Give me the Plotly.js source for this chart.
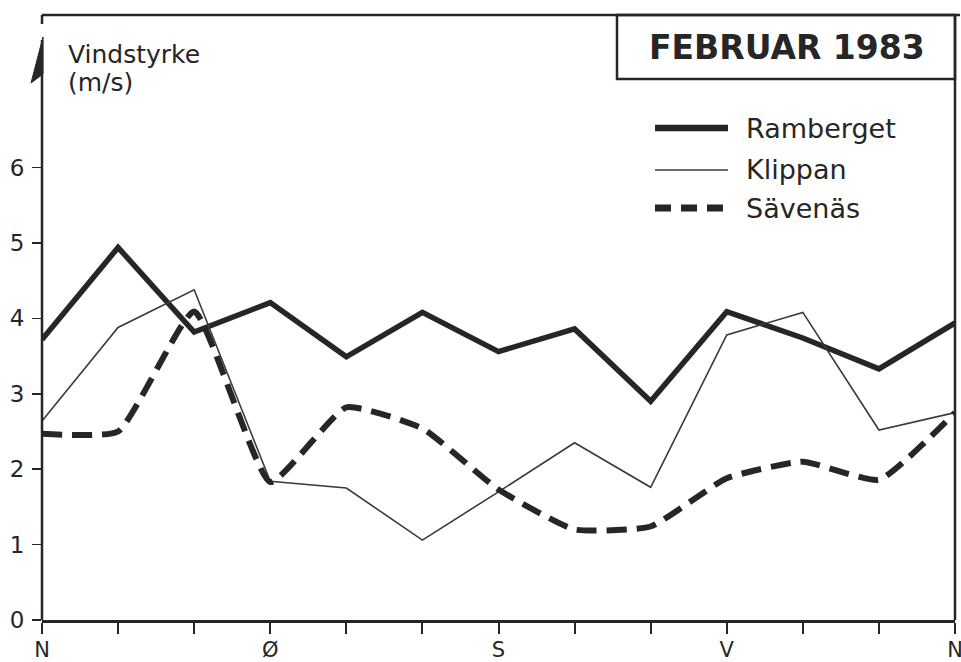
<!DOCTYPE html>
<html>
<head>
<meta charset="utf-8">
<script src="https://cdn.plot.ly/plotly-3.0.1.min.js"></script>
<style>html,body{margin:0;padding:0;background:#fff;}#chart{width:961px;height:662px;}</style>
</head>
<body>
<div id="chart"></div>
<script>
// Wind direction (degrees) and tick labels
const directions = [0, 30, 60, 90, 120, 150, 180, 210, 240, 270, 300, 330, 360];
const tickText = ['N', '', '', 'Ø', '', '', 'S', '', '', 'V', '', '', 'N'];
const yTicks = [0, 1, 2, 3, 4, 5, 6];

// Wind speed (m/s) per station
const seriesNames = ['Ramberget', 'Klippan', 'Sävenäs'];
const ramberget = [3.72, 4.94, 3.82, 4.21, 3.49, 4.08, 3.56, 3.86, 2.90, 4.09, 3.74, 3.33, 3.94];
const klippan   = [2.64, 3.88, 4.38, 1.84, 1.75, 1.06, 1.70, 2.35, 1.76, 3.78, 4.08, 2.52, 2.75];
const savenas   = [2.47, 2.50, 4.09, 1.83, 2.82, 2.54, 1.73, 1.20, 1.24, 1.88, 2.10, 1.86, 2.75];

const chartTitle = 'FEBRUAR 1983';
const yLabel = ['Vindstyrke', '(m/s)'];

const ink = '#262626';
const FONT = 'DejaVu Sans, Liberation Sans, sans-serif';

// layout geometry (pixels)
const L = 42, R = 955, T = 17, B = 620;
const px2x = p => (p - L) / (R - L);
const py2y = p => (B - p) / (B - T);

const traces = [
  {x: directions, y: ramberget, name: seriesNames[0], mode: 'lines',
   line: {color: ink, width: 5.5}},
  {x: directions, y: klippan, name: seriesNames[1], mode: 'lines',
   line: {color: '#3a3a3a', width: 1.6}},
  {x: directions, y: savenas, name: seriesNames[2], mode: 'lines',
   line: {color: ink, width: 6, dash: '20px,10px', shape: 'spline', smoothing: 0.45}}
];

const legendStyles = [
  {color: ink, width: 6.5},
  {color: '#3a3a3a', width: 1.6},
  {color: ink, width: 7, dash: '16px,10px'}
];
const legendY = [128, 170, 208];

const shapes = [
  // frame top and right
  {type: 'line', xref: 'paper', yref: 'paper', x0: 0, x1: px2x(960), y0: py2y(15), y1: py2y(15), line: {color: ink, width: 2.5}},
  {type: 'line', xref: 'paper', yref: 'paper', x0: 0, x1: 0, y0: py2y(15), y1: py2y(24), line: {color: ink, width: 2.5}},
  {type: 'line', xref: 'paper', yref: 'paper', x0: 1, x1: 1, y0: 0, y1: py2y(15), line: {color: ink, width: 2.5}},
  // y axis with arrow
  {type: 'line', xref: 'paper', yref: 'paper', x0: 0, x1: 0, y0: 0, y1: py2y(40), line: {color: ink, width: 2.5}},
  {type: 'path', xref: 'paper', yref: 'paper',
   path: 'M ' + px2x(43) + ',' + py2y(37) + ' L ' + px2x(31) + ',' + py2y(83) + ' L ' + px2x(43) + ',' + py2y(74) + ' Z',
   fillcolor: ink, line: {color: ink, width: 1}},
  // title box
  {type: 'rect', xref: 'paper', yref: 'paper', x0: px2x(617), x1: 1, y0: py2y(79), y1: py2y(15), line: {color: ink, width: 2.5}}
];

const annotations = [
  {xref: 'paper', yref: 'paper', x: px2x(787), y: py2y(48), text: '<b>' + chartTitle + '</b>', showarrow: false,
   xanchor: 'center', yanchor: 'middle', font: {family: FONT, size: 33, color: ink}},
  {xref: 'paper', yref: 'paper', x: px2x(66), y: py2y(54), text: yLabel[0], showarrow: false,
   xanchor: 'left', yanchor: 'middle', font: {family: FONT, size: 25, color: ink}},
  {xref: 'paper', yref: 'paper', x: px2x(66), y: py2y(83), text: yLabel[1], showarrow: false,
   xanchor: 'left', yanchor: 'middle', font: {family: FONT, size: 25, color: ink}}
];

seriesNames.forEach((nm, i) => {
  shapes.push({type: 'line', xref: 'paper', yref: 'paper', x0: px2x(655), x1: px2x(728),
    y0: py2y(legendY[i]), y1: py2y(legendY[i]), line: legendStyles[i]});
  annotations.push({xref: 'paper', yref: 'paper', x: px2x(744), y: py2y(legendY[i]), text: nm,
    showarrow: false, xanchor: 'left', yanchor: 'middle', font: {family: FONT, size: 27, color: ink}});
});

const layout = {
  width: 961, height: 662,
  margin: {l: L, r: 961 - R, t: T, b: 662 - B},
  paper_bgcolor: '#fff', plot_bgcolor: '#fff',
  showlegend: false,
  xaxis: {
    range: [0, 360], tickvals: directions, ticktext: tickText,
    showgrid: false, zeroline: false, showline: true, linecolor: ink, linewidth: 2.5,
    ticks: 'outside', ticklen: 11, tickwidth: 2, tickcolor: ink,
    ticklabelstandoff: -2, ticklabeloverflow: 'allow',
    tickfont: {family: FONT, size: 21, color: ink}, fixedrange: true
  },
  yaxis: {
    range: [0, (B - T) / 75.4], tickvals: yTicks,
    showgrid: false, zeroline: false, showline: false,
    ticks: 'outside', ticklen: 9, tickwidth: 1.5, tickcolor: ink,
    ticklabelstandoff: 3,
    tickfont: {family: FONT, size: 23, color: ink}, fixedrange: true
  },
  shapes: shapes,
  annotations: annotations
};

Plotly.newPlot('chart', traces, layout, {displayModeBar: false, staticPlot: true});
</script>
</body>
</html>
